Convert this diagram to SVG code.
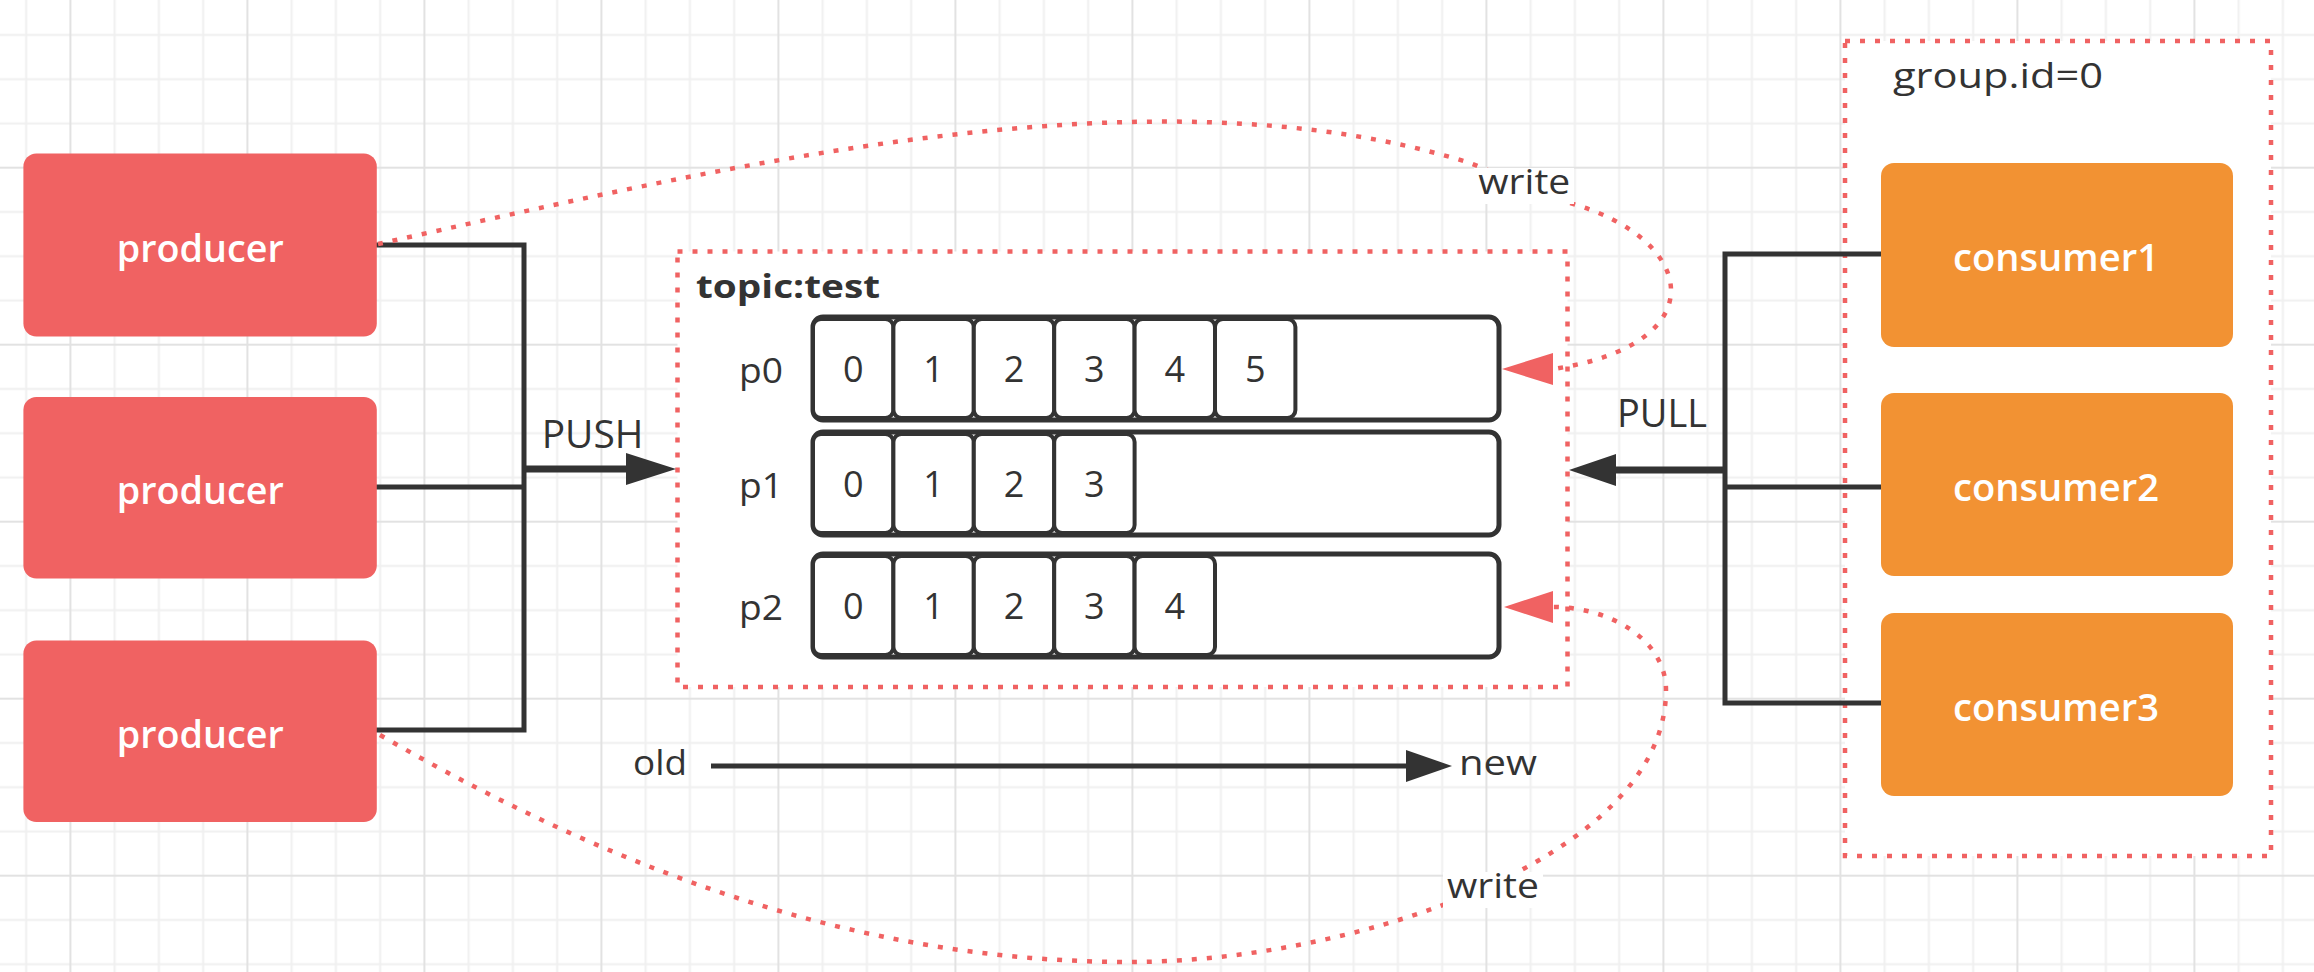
<svg xmlns="http://www.w3.org/2000/svg" width="2314" height="972" viewBox="0 0 2314 972">
  <defs>
    <pattern id="grid" patternUnits="userSpaceOnUse" x="69.4" y="166.7" width="177" height="177">
      <path d="M45.25 0V177M89.5 0V177M133.75 0V177M0 45.25H177M0 89.5H177M0 133.75H177" stroke="#f0f0f0" stroke-width="2" fill="none"/>
      <path d="M1 0V177M0 1H177" stroke="#e2e2e2" stroke-width="2" fill="none"/>
    </pattern>
    <style>
      .txt { font-family: "Open Sans", "Liberation Sans", sans-serif; fill: #333333; }
      .node-red { fill: #F06262; }
      .node-orange { fill: #F29233; }
      .node-label { font-family: "Open Sans", "Liberation Sans", sans-serif; font-weight: 600; font-size: 37px; fill: #ffffff; }
      .dotted { fill: #ffffff; stroke: #F06262; stroke-width: 4.5; stroke-dasharray: 5 10; }
      .dotted-edge { fill: none; stroke: #F06262; stroke-width: 4.5; stroke-dasharray: 5 10; }
      .bar { fill: #ffffff; stroke: #333333; stroke-width: 5; }
      .cell { fill: #ffffff; stroke: #333333; stroke-width: 4; }
      .digit { font-family: "Open Sans", "Liberation Sans", sans-serif; font-size: 36px; fill: #333333; text-anchor: middle; }
      .wire { fill: none; stroke: #333333; stroke-width: 5; }
      .wire-thick { fill: none; stroke: #333333; stroke-width: 7; }
      .head-dark { fill: #333333; }
      .head-red { fill: #F06262; }
    </style>
  </defs>

  <!-- canvas grid -->
  <rect width="2314" height="972" fill="#ffffff"/>
  <rect width="2314" height="972" fill="url(#grid)"/>

  <!-- consumer group frame -->
  <g id="consumer-group">
    <rect class="dotted" x="1845" y="41" width="426" height="815"/>
    <text class="txt" x="1893" y="88" font-size="34" textLength="210" lengthAdjust="spacingAndGlyphs">group.id=0</text>
  </g>

  <!-- topic with its partitions -->
  <g id="topic-test">
    <rect class="dotted" x="677.5" y="251.5" width="890" height="435.5"/>
    <text class="txt" x="696" y="298" font-size="32" font-weight="700" textLength="184" lengthAdjust="spacingAndGlyphs">topic:test</text>

    <g id="partition-p0">
      <text class="txt" x="739" y="383" font-size="34" textLength="44" lengthAdjust="spacingAndGlyphs">p0</text>
      <rect class="bar" x="813" y="317" width="686" height="103" rx="10"/>
      <rect class="cell" x="813" y="319" width="80.4" height="99" rx="8"/>
      <rect class="cell" x="893.4" y="319" width="80.4" height="99" rx="8"/>
      <rect class="cell" x="973.8" y="319" width="80.4" height="99" rx="8"/>
      <rect class="cell" x="1054.2" y="319" width="80.4" height="99" rx="8"/>
      <rect class="cell" x="1134.6" y="319" width="80.4" height="99" rx="8"/>
      <rect class="cell" x="1215" y="319" width="80.4" height="99" rx="8"/>
      <text class="digit" x="853.2" y="382">0</text>
      <text class="digit" x="933.6" y="382">1</text>
      <text class="digit" x="1014" y="382">2</text>
      <text class="digit" x="1094.4" y="382">3</text>
      <text class="digit" x="1174.8" y="382">4</text>
      <text class="digit" x="1255.2" y="382">5</text>
    </g>

    <g id="partition-p1">
      <text class="txt" x="739" y="498" font-size="34" textLength="44" lengthAdjust="spacingAndGlyphs">p1</text>
      <rect class="bar" x="813" y="432" width="686" height="103" rx="10"/>
      <rect class="cell" x="813" y="434" width="80.4" height="99" rx="8"/>
      <rect class="cell" x="893.4" y="434" width="80.4" height="99" rx="8"/>
      <rect class="cell" x="973.8" y="434" width="80.4" height="99" rx="8"/>
      <rect class="cell" x="1054.2" y="434" width="80.4" height="99" rx="8"/>
      <text class="digit" x="853.2" y="497">0</text>
      <text class="digit" x="933.6" y="497">1</text>
      <text class="digit" x="1014" y="497">2</text>
      <text class="digit" x="1094.4" y="497">3</text>
    </g>

    <g id="partition-p2">
      <text class="txt" x="739" y="620" font-size="34" textLength="44" lengthAdjust="spacingAndGlyphs">p2</text>
      <rect class="bar" x="813" y="554" width="686" height="103" rx="10"/>
      <rect class="cell" x="813" y="556" width="80.4" height="99" rx="8"/>
      <rect class="cell" x="893.4" y="556" width="80.4" height="99" rx="8"/>
      <rect class="cell" x="973.8" y="556" width="80.4" height="99" rx="8"/>
      <rect class="cell" x="1054.2" y="556" width="80.4" height="99" rx="8"/>
      <rect class="cell" x="1134.6" y="556" width="80.4" height="99" rx="8"/>
      <text class="digit" x="853.2" y="619">0</text>
      <text class="digit" x="933.6" y="619">1</text>
      <text class="digit" x="1014" y="619">2</text>
      <text class="digit" x="1094.4" y="619">3</text>
      <text class="digit" x="1174.8" y="619">4</text>
    </g>
  </g>

  <!-- connectors -->
  <g id="connectors">
    <!-- producers joined into the PUSH arrow -->
    <path class="wire" d="M376 245H524V730H376"/>
    <path class="wire" d="M376 487H524"/>
    <path class="wire-thick" d="M524 469H630"/>
    <polygon class="head-dark" points="676,469 626,453 626,485"/>
    <text class="txt" x="541.7" y="448" font-size="38" textLength="101.7" lengthAdjust="spacingAndGlyphs">PUSH</text>

    <!-- consumers joined into the PULL arrow -->
    <path class="wire" d="M1881 254H1725V703H1881"/>
    <path class="wire" d="M1881 487H1725"/>
    <path class="wire-thick" d="M1725 470H1612"/>
    <polygon class="head-dark" points="1569,470 1616,454 1616,486"/>
    <text class="txt" x="1617" y="427" font-size="38" textLength="90" lengthAdjust="spacingAndGlyphs">PULL</text>

    <!-- write paths into p0 and p2 -->
    <path class="dotted-edge" d="M378 244C720 168 1150 62 1470 163L1570 203C1700 240 1715 345 1553 369"/>
    <polygon class="head-red" points="1502,369 1553,353 1553,385"/>
    <path class="dotted-edge" d="M380 735C640 885 880 962 1130 962C1350 962 1666 860 1666 690C1666 640 1610 607 1553 607"/>
    <polygon class="head-red" points="1504,607 1553,591 1553,623"/>
    <rect x="1474" y="168" width="100" height="36" fill="#ffffff"/>
    <text class="txt" x="1478.3" y="194" font-size="34" textLength="92" lengthAdjust="spacingAndGlyphs">write</text>
    <rect x="1443" y="872" width="100" height="36" fill="#ffffff"/>
    <text class="txt" x="1447" y="898" font-size="34" textLength="92" lengthAdjust="spacingAndGlyphs">write</text>

    <!-- offset order -->
    <path class="wire" d="M711 766H1410"/>
    <polygon class="head-dark" points="1452,766 1406,750 1406,782"/>
    <text class="txt" x="633" y="775" font-size="34" textLength="54" lengthAdjust="spacingAndGlyphs">old</text>
    <text class="txt" x="1459" y="775" font-size="34" textLength="78" lengthAdjust="spacingAndGlyphs">new</text>
  </g>

  <!-- producers -->
  <g id="producer-1">
    <rect class="node-red" x="23.4" y="153.5" width="353.4" height="183" rx="13"/>
    <text class="node-label" x="116.7" y="261.7" textLength="167" lengthAdjust="spacingAndGlyphs">producer</text>
  </g>
  <g id="producer-2">
    <rect class="node-red" x="23.4" y="397" width="353.4" height="181.5" rx="13"/>
    <text class="node-label" x="116.7" y="504.4" textLength="167" lengthAdjust="spacingAndGlyphs">producer</text>
  </g>
  <g id="producer-3">
    <rect class="node-red" x="23.4" y="640.5" width="353.4" height="181.5" rx="13"/>
    <text class="node-label" x="116.7" y="747.7" textLength="167" lengthAdjust="spacingAndGlyphs">producer</text>
  </g>

  <!-- consumers -->
  <g id="consumer-1">
    <rect class="node-orange" x="1881" y="163" width="352" height="184" rx="13"/>
    <text class="node-label" x="1953" y="271" textLength="206" lengthAdjust="spacingAndGlyphs">consumer1</text>
  </g>
  <g id="consumer-2">
    <rect class="node-orange" x="1881" y="393" width="352" height="183" rx="13"/>
    <text class="node-label" x="1953" y="500.5" textLength="206" lengthAdjust="spacingAndGlyphs">consumer2</text>
  </g>
  <g id="consumer-3">
    <rect class="node-orange" x="1881" y="613" width="352" height="183" rx="13"/>
    <text class="node-label" x="1953" y="720.5" textLength="206" lengthAdjust="spacingAndGlyphs">consumer3</text>
  </g>
</svg>
